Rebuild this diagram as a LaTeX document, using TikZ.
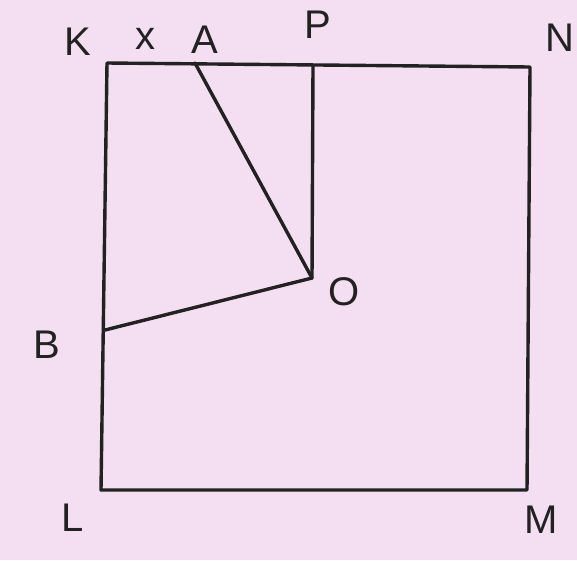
\documentclass[tikz,border=0pt]{standalone}
\usepackage{fontspec}
\setmainfont{Liberation Sans}
\definecolor{bgpink}{HTML}{F4DEF1}
\definecolor{ink}{HTML}{222222}
\begin{document}
\begin{tikzpicture}[x=1pt,y=-1pt,
  edge/.style={draw=ink,line width=3.4pt,line cap=round,line join=round},
  lbl/.style={text=ink,font=\fontsize{40}{42}\selectfont,inner sep=0pt}]
\fill[bgpink] (0,0) rectangle (577,560);
\useasboundingbox (0,0) rectangle (577,560);
% points
\coordinate (K) at (107,63);
\coordinate (N) at (530,67);
\coordinate (M) at (527,490);
\coordinate (L) at (101,490);
\coordinate (A) at (195,63);
\coordinate (P) at (313,66);
\coordinate (O) at (312,278);
\coordinate (B) at (105,330);
% square
\draw[edge] (K) -- (N) -- (M) -- (L) -- cycle;
% segments
\draw[edge] (A) -- (O);
\draw[edge] (P) -- (O);
\draw[edge] (B) -- (O);
% labels
\node[lbl] (lK) at (78,42) {K};
\node[lbl] (lx) at (145,39) {x};
\node[lbl] (lA) at (205,40) {A};
\node[lbl] (lP) at (318,25) {P};
\node[lbl] (lN) at (560,38) {N};
\node[lbl] (lO) at (344,292) {O};
\node[lbl] (lB) at (47,345) {B};
\node[lbl] (lL) at (73,518) {L};
\node[lbl] (lM) at (541,520) {M};
\end{tikzpicture}
\end{document}
